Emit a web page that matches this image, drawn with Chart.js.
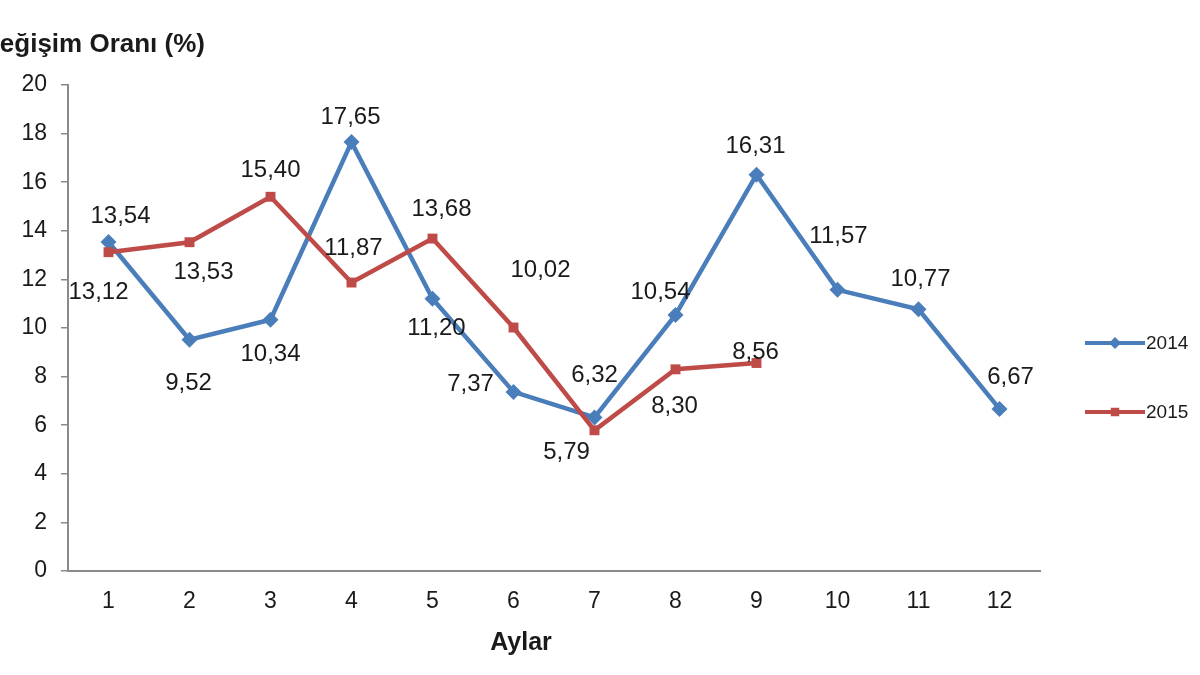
<!DOCTYPE html>
<html><head><meta charset="utf-8">
<script src="https://cdn.jsdelivr.net/npm/chart.js@4.4.1/dist/chart.umd.min.js"></script>
<style>html,body{margin:0;padding:0;background:#fff;}#w{width:1200px;height:675px;position:relative;}</style>
</head><body><div id="w"><canvas id="c" width="1200" height="675"></canvas></div>
<script>
const categories = ["1","2","3","4","5","6","7","8","9","10","11","12"];
const values2014 = [13.54, 9.52, 10.34, 17.65, 11.20, 7.37, 6.32, 10.54, 16.31, 11.57, 10.77, 6.67];
const values2015 = [13.12, 13.53, 15.40, 11.87, 13.68, 10.02, 5.79, 8.30, 8.56, null, null, null];
const yTicks = [0, 2, 4, 6, 8, 10, 12, 14, 16, 18, 20];

// label placement offsets (dx, dy in px from point)
const off2014 = [[12,-26],[-1,44],[0,35],[-1,-25],[4,30],[-43,-8],[0,-42],[-15,-23],[-1,-28],[1,-53],[2,-30],[11,-32]];
const off2015 = [[-10,40],[14,30],[0,-26],[2,-34],[9,-29],[27,-57],[-28,22],[-1,37],[-1,-11]];

const FONT = "'Liberation Sans', Arial, sans-serif";
const fmt = v => v.toFixed(2).replace('.', ',');

const extras = {
  id: 'extras',
  afterDatasetsDraw(chart) {
    const ctx = chart.ctx;
    ctx.save();
    ctx.fillStyle = '#1a1a1a';
    ctx.font = '24px ' + FONT;
    ctx.textAlign = 'center';
    ctx.textBaseline = 'middle';
    [[0, off2014, values2014], [1, off2015, values2015]].forEach(([di, offs, vals]) => {
      const meta = chart.getDatasetMeta(di);
      meta.data.forEach((pt, i) => {
        if (vals[i] == null) return;
        const o = offs[i] || [0, -25];
        ctx.fillText(fmt(vals[i]), pt.x + o[0], pt.y + o[1]);
      });
    });
    // axis titles
    ctx.font = 'bold 26px ' + FONT;
    ctx.textAlign = 'right';
    ctx.fillText('Değişim Oranı (%)', 205, 45);
    ctx.textAlign = 'center';
    ctx.font = 'bold 25px ' + FONT;
    ctx.fillText('Aylar', 521, 643);
    // legend
    const items = [['2014', '#4a7ebb', 'rectRot', 343], ['2015', '#be4b48', 'rect', 412]];
    items.forEach(([t, col, st, y]) => {
      ctx.strokeStyle = col; ctx.lineWidth = 4;
      ctx.beginPath(); ctx.moveTo(1085, y); ctx.lineTo(1145, y); ctx.stroke();
      ctx.fillStyle = col;
      Chart.helpers.drawPoint(ctx, {pointStyle: st, radius: 6, borderWidth: 0}, 1115, y);
      ctx.fillStyle = '#1a1a1a';
      ctx.font = '19px ' + FONT;
      ctx.textAlign = 'left';
      ctx.fillText(t, 1146, y + 1);
    });
    ctx.restore();
  }
};

new Chart(document.getElementById('c'), {
  type: 'line',
  data: {
    labels: categories,
    datasets: [
      { label: '2014', data: values2014, borderColor: '#4a7ebb', backgroundColor: '#4a7ebb',
        borderWidth: 4.5, pointStyle: 'rectRot', pointRadius: 8, pointBorderWidth: 0, tension: 0, order: 2 },
      { label: '2015', data: values2015, borderColor: '#be4b48', backgroundColor: '#be4b48',
        borderWidth: 4.5, pointStyle: 'rect', pointRadius: 7, pointBorderWidth: 0, tension: 0, order: 1 }
    ]
  },
  options: {
    responsive: false, animation: false, devicePixelRatio: 1,
    layout: { padding: { top: 85, right: 160, left: 0, bottom: 0 } },
    plugins: { legend: { display: false }, tooltip: { enabled: false } },
    scales: {
      x: {
        offset: true,
        grid: { display: false, drawTicks: false },
        border: { display: true, color: '#8a8a8a', width: 2 },
        ticks: { color: '#1a1a1a', font: { family: FONT, size: 23 }, padding: 17 },
        afterFit(s) { s.height = 104; }
      },
      y: {
        min: 0, max: 20,
        afterBuildTicks(s) { s.ticks = yTicks.map(v => ({ value: v })); },
        grid: { drawOnChartArea: false, drawTicks: true, tickLength: 7, color: '#8a8a8a', lineWidth: 1.5 },
        border: { display: true, color: '#8a8a8a', width: 2 },
        ticks: { color: '#1a1a1a', font: { family: FONT, size: 23 }, padding: 14 },
        afterFit(s) { s.width = 68; }
      }
    }
  },
  plugins: [extras]
});
</script></body></html>
